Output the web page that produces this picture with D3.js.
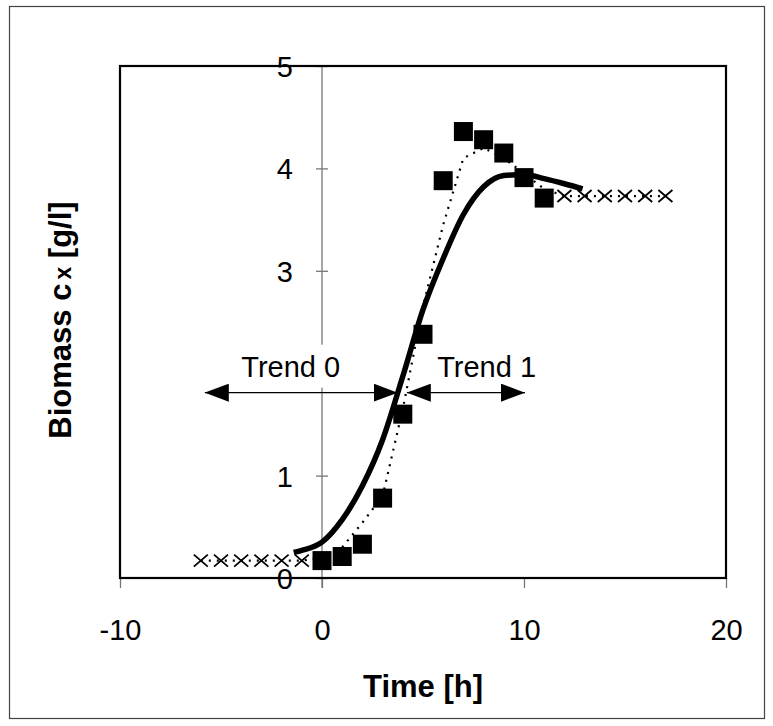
<!DOCTYPE html>
<html>
<head>
<meta charset="utf-8">
<script src="https://cdn.jsdelivr.net/npm/d3@7/dist/d3.min.js"></script>
<style>
body { margin: 0; background: #fff; }
text { font-family: Arial, "Liberation Sans", sans-serif; fill: #000; }
</style>
</head>
<body>
<svg id="chart" width="773" height="726"></svg>
<script>
// measured biomass (squares)
var measTime = [0, 1, 2, 3, 4, 5, 6, 7, 8, 9, 10, 11];
var measBiomass = [0.17, 0.21, 0.33, 0.78, 1.6, 2.38, 3.88, 4.36, 4.28, 4.15, 3.91, 3.71];

// extrapolated values before / after the run (crosses)
var extraTime = [-6, -5, -4, -3, -2, -1, 12, 13, 14, 15, 16, 17];
var extraBiomass = [0.17, 0.17, 0.17, 0.17, 0.17, 0.17, 3.73, 3.73, 3.73, 3.73, 3.73, 3.73];

// model curve (thick line)
var modelTime = [-1.4, -1, 0, 1, 2, 3, 4, 5, 6, 7, 8, 9, 10, 11, 12, 12.9];
var modelBiomass = [0.25, 0.27, 0.35, 0.57, 0.9, 1.35, 1.97, 2.62, 3.12, 3.55, 3.82, 3.93, 3.94, 3.9, 3.85, 3.8];

// interpolation through the data (dotted line)
var interpTime = [-6, -1, 0, 1, 2, 3, 4, 5, 6, 7, 8, 9, 10, 11, 12, 17];
var interpBiomass = [0.17, 0.17, 0.2, 0.3, 0.54, 0.8, 1.65, 2.65, 3.45, 4.1, 4.2, 4.1, 3.95, 3.8, 3.73, 3.73];

var xTicks = [-10, 0, 10, 20];
var yTicks = [0, 1, 2, 3, 4, 5];
// the "2" label is covered by the Trend 0 box in the original
var yTickLabels = ['0', '1', '', '3', '4', '5'];

var trendNames = ['Trend 0', 'Trend 1'];
var trendFrom = [-5.8, 4.2];
var trendTo = [3.75, 10.05];
var trendLevel = 1.81;

var svg = d3.select('#chart');
var margin = {left: 120, top: 66, right: 47, bottom: 148};
var W = 773, H = 726;

var x = d3.scaleLinear().domain([-10, 20]).range([margin.left, W - margin.right]);
var y = d3.scaleLinear().domain([0, 5]).range([H - margin.bottom, margin.top]);
var plain = function (d) { return String(d); };

// outer frame
svg.append('rect')
	.attr('x', 9.5).attr('y', 6.5)
	.attr('width', 755).attr('height', 712)
	.attr('fill', 'none').attr('stroke', '#444').attr('stroke-width', 1.2);

// arrow heads
var defs = svg.append('defs');
defs.append('marker')
	.attr('id', 'head')
	.attr('markerUnits', 'userSpaceOnUse')
	.attr('viewBox', '0 0 24 18')
	.attr('refX', 24).attr('refY', 9)
	.attr('markerWidth', 24).attr('markerHeight', 18)
	.attr('orient', 'auto-start-reverse')
	.append('path')
	.attr('d', 'M0,0L24,9L0,18Z')
	.attr('fill', '#000');

// y axis through x = 0
var yAxis = svg.append('g')
	.attr('transform', 'translate(' + x(0) + ',0)')
	.call(d3.axisLeft(y).tickValues(yTicks)
		.tickFormat(function (d, k) { return yTickLabels[k]; })
		.tickSize(0).tickPadding(29));
yAxis.select('.domain').remove();
yAxis.selectAll('.tick line')
	.attr('x1', -6).attr('x2', 6)
	.attr('stroke', '#777').attr('stroke-width', 1.3);
yAxis.selectAll('.tick text')
	.style('font-size', '29px')
	.attr('dy', '0.36em');
yAxis.append('line')
	.attr('x1', 0).attr('x2', 0)
	.attr('y1', y(5)).attr('y2', y(0) + 10)
	.attr('stroke', '#777').attr('stroke-width', 1.3);

// x axis
var xAxis = svg.append('g')
	.attr('transform', 'translate(0,' + y(0) + ')')
	.call(d3.axisBottom(x).tickValues(xTicks).tickFormat(plain).tickSize(10).tickPadding(31));
xAxis.select('.domain').remove();
xAxis.selectAll('.tick line').attr('stroke', '#777').attr('stroke-width', 1.3);
xAxis.selectAll('.tick text').style('font-size', '29px');

// trend labels sit on a white box
var labelAt = [-1.55, 8.15];
for (var j = 0; j < trendNames.length; j++) {
	var lg = svg.append('g');
	var bg = lg.append('rect').attr('fill', '#fff');
	var lt = lg.append('text')
		.attr('x', x(labelAt[j])).attr('y', y(trendLevel) - 16)
		.attr('text-anchor', 'middle')
		.style('font-size', '29px')
		.text(trendNames[j]);
	var bb = lt.node().getBBox();
	bg.attr('x', bb.x - 8).attr('y', bb.y - 6)
		.attr('width', bb.width + 16).attr('height', bb.height + 11);
}

// trend arrows
for (var i = 0; i < trendNames.length; i++) {
	svg.append('line')
		.attr('x1', x(trendFrom[i])).attr('x2', x(trendTo[i]))
		.attr('y1', y(trendLevel)).attr('y2', y(trendLevel))
		.attr('stroke', '#000').attr('stroke-width', 1.2)
		.attr('marker-start', 'url(#head)')
		.attr('marker-end', 'url(#head)');
}

// dotted interpolation
var interpData = interpTime.map(function (t, k) { return {t: t, v: interpBiomass[k]}; });
svg.append('path')
	.datum(interpData)
	.attr('fill', 'none')
	.attr('stroke', '#000')
	.attr('stroke-width', 2.2)
	.attr('stroke-dasharray', '2,6')
	.attr('d', d3.line().x(function (d) { return x(d.t); }).y(function (d) { return y(d.v); }));

// model
var modelData = modelTime.map(function (t, k) { return {t: t, v: modelBiomass[k]}; });
svg.append('path')
	.datum(modelData)
	.attr('fill', 'none')
	.attr('stroke', '#000')
	.attr('stroke-width', 5.5)
	.attr('d', d3.line().curve(d3.curveMonotoneX).x(function (d) { return x(d.t); }).y(function (d) { return y(d.v); }));

// crosses
var extraData = extraTime.map(function (t, k) { return {t: t, v: extraBiomass[k]}; });
svg.append('g').selectAll('path')
	.data(extraData)
	.enter()
	.append('path')
	.attr('fill', 'none')
	.attr('stroke', '#000')
	.attr('stroke-width', 1.8)
	.attr('d', function (d) {
		var cx = x(d.t), cy = y(d.v);
		return 'M' + (cx - 7) + ',' + (cy - 6) + 'L' + (cx + 7) + ',' + (cy + 6) +
			'M' + (cx - 7) + ',' + (cy + 6) + 'L' + (cx + 7) + ',' + (cy - 6);
	});

// squares
var measData = measTime.map(function (t, k) { return {t: t, v: measBiomass[k]}; });
svg.append('g').selectAll('rect')
	.data(measData)
	.enter()
	.append('rect')
	.attr('x', function (d) { return x(d.t) - 9.5; })
	.attr('y', function (d) { return y(d.v) - 9.5; })
	.attr('width', 19).attr('height', 19)
	.attr('fill', '#000');

// plot frame
svg.append('rect')
	.attr('x', x(-10)).attr('y', y(5))
	.attr('width', x(20) - x(-10)).attr('height', y(0) - y(5))
	.attr('fill', 'none').attr('stroke', '#000').attr('stroke-width', 2.2);

// axis titles
svg.append('text')
	.attr('x', (x(-10) + x(20)) / 2).attr('y', 697)
	.attr('text-anchor', 'middle')
	.style('font-size', '31px').style('font-weight', 'bold')
	.text('Time [h]');

var yTitle = svg.append('text')
	.attr('transform', 'translate(71,320) rotate(-90)')
	.attr('text-anchor', 'middle')
	.style('font-size', '31px').style('font-weight', 'bold');
yTitle.append('tspan').text('Biomass c');
yTitle.append('tspan').style('font-size', '23px').attr('dx', 4).text('x');
yTitle.append('tspan').text(' [g/l]');
</script>
</body>
</html>
